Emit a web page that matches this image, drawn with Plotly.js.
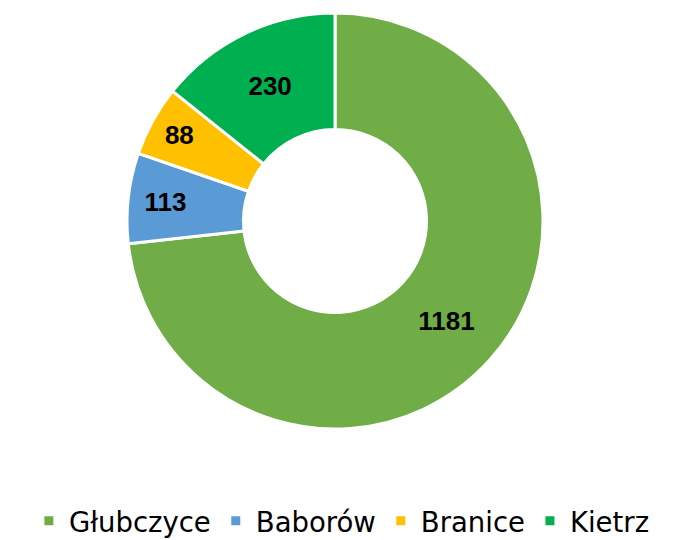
<!DOCTYPE html>
<html><head><meta charset="utf-8">
<script src="https://cdn.plot.ly/plotly-3.0.1.min.js"></script>
<style>html,body{margin:0;padding:0;background:#fff}#chart{width:677px;height:540px}</style>
</head><body><div id="chart"></div>
<script>
const categories = ["Głubczyce", "Baborów", "Branice", "Kietrz"];
const values = [1181, 113, 88, 230];
const colors = ["#70AD47", "#5B9BD5", "#FFC000", "#00B050"];

Plotly.newPlot("chart", [{
  type: "pie",
  labels: categories,
  values: values,
  sort: false,
  direction: "clockwise",
  rotation: 0,
  hole: 0.44,
  marker: {colors: colors, line: {color: "#ffffff", width: 3}},
  textinfo: "value",
  textposition: "inside",
  insidetextorientation: "horizontal",
  textfont: {family: "Liberation Sans, Arial, sans-serif", size: 26, color: "#000000", weight: "bold"},
  domain: {x: [0.1876, 0.8021], y: [0.2056, 0.9759]}
}], {
  width: 677, height: 540,
  margin: {l: 0, r: 0, t: 0, b: 0, autoexpand: false},
  paper_bgcolor: "#ffffff",
  showlegend: true,
  legend: {
    orientation: "h", x: 0.505, xanchor: "center", y: -0.01, yanchor: "bottom",
    font: {family: "DejaVu Sans, sans-serif", size: 27.5, color: "#000000"},
    itemwidth: 30, traceorder: "normal"
  }
}, {displayModeBar: false});
</script></body></html>
